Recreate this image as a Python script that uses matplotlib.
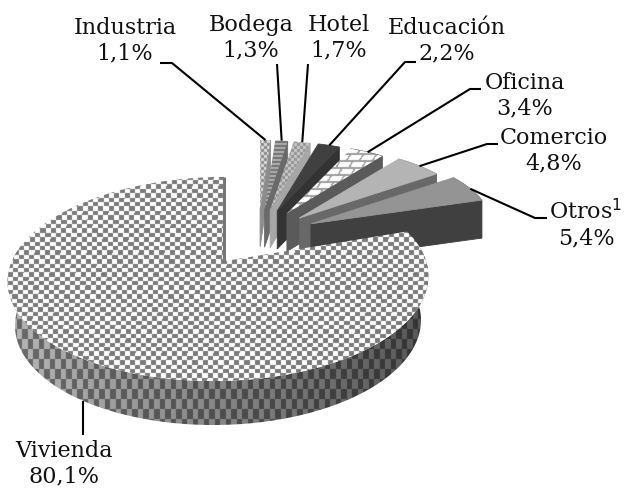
import numpy as np
import matplotlib
matplotlib.use("Agg")
import matplotlib.pyplot as plt
from matplotlib.patches import Polygon

# slices, clockwise from 12 o'clock
categorias = ["Industria", "Bodega", "Hotel", "Educación", "Oficina", "Comercio", "Otros", "Vivienda"]
valores = [1.1, 1.3, 1.7, 2.2, 3.4, 4.8, 5.4, 80.1]
etiquetas = ["1,1%", "1,3%", "1,7%", "2,2%", "3,4%", "4,8%", "5,4%", "80,1%"]

W, H = 624, 489
PROF = 38

# label centre and leader elbow, in pixels
pos_texto = [(125, 41), (251, 38), (339, 38), (447, 41), (525, 96), (554, 151), (586, 224), (64, 464)]
codo = [(172, 64), None, None, (405, 63), (470, 90), (487, 145), (535, 219), None]
fim_linha = [(160, 64), (277, 65), (308, 65), (416, 63), (481, 90), (498, 145), (547, 219), (83, 436)]


def suavizar(m):
    # the original is a blurry scan, so soften the patterns a little
    viz = (np.roll(m, 1, 0) + np.roll(m, -1, 0) + np.roll(m, 1, 1) + np.roll(m, -1, 1)) / 4
    return 0.6 * m + 0.4 * viz


def xadrez(cw, ch, claro, escuro, desl=0.0):
    yy, xx = np.mgrid[0:H, 0:W]
    a = np.floor((xx + desl * yy) / cw).astype(int)
    b = np.floor(yy / ch).astype(int)
    return suavizar(np.where((a + b) % 2 == 0, claro, escuro))


def tijolo(cw, ch, claro, escuro):
    yy, xx = np.mgrid[0:H, 0:W]
    lin = np.floor(yy / ch).astype(int)
    xs = (xx + (lin % 2) * cw / 2 + yy * 0.6) % cw
    return suavizar(np.where((yy % ch < 1.8) | (xs < 1.8), escuro, claro))


def listras(ch, claro, escuro):
    yy, xx = np.mgrid[0:H, 0:W]
    return suavizar(np.where(yy % ch < ch / 2, claro, escuro))


def preencher(ax, pontos, textura, z):
    # texture image clipped to the polygon, or a flat grey
    if isinstance(textura, str):
        ax.add_patch(Polygon(pontos, closed=True, fc=textura, ec=textura, lw=0.6, zorder=z))
        return
    im = ax.imshow(textura, cmap="gray", vmin=0, vmax=1, extent=(0, W, H, 0),
                   interpolation="bilinear", zorder=z, aspect="auto")
    pol = Polygon(pontos, closed=True, transform=ax.transData, fc="none", ec="none")
    ax.add_patch(pol)
    im.set_clip_path(pol)


fig = plt.figure(figsize=(W / 100, H / 100), dpi=100)
ax = fig.add_axes([0, 0, 1, 1])

total = sum(valores)
angulos = np.cumsum([0] + valores) / total * 2 * np.pi

topos = ["#aaaaaa", "#8a8a8a", "#a8a8a8", "#404040", None, "#b4b4b4", "#949494"]
lados = ["#8c8c8c", "#6a6a6a", "#a6a6a6", "#333333", "#5a5a5a", "#686868", "#404040"]
texturas = {
    0: xadrez(3, 3, 0.85, 0.55),
    1: listras(4, 0.68, 0.45),
    2: xadrez(3, 3, 0.78, 0.58),
    4: tijolo(13, 7, 1.0, 0.62),
}
inicio_linha = []

# exploded slices, back to front
for i in range(7):
    t0, t1 = angulos[i], angulos[i + 1]
    b = (t0 + t1) / 2
    sb = np.sin(b)
    ax0 = 258 + 60 * sb
    ay0 = 210 + 19 * sb ** 2
    rx = 150 + 34 * sb
    ry = 69 + 9 * sb ** 3
    t = np.linspace(t0, t1, 30)
    arco = np.column_stack([ax0 + rx * np.sin(t), ay0 - ry * np.cos(t)])
    apice = np.array([ax0, ay0])
    fim = arco[-1]
    # cut face and rim
    face = [apice, fim, fim + [0, PROF], apice + [0, PROF]]
    preencher(ax, face, lados[i], 2 + i * 0.1)
    if i >= 4:
        borda = np.vstack([arco, arco[::-1] + [0, PROF]])
        preencher(ax, borda, lados[i], 2 + i * 0.1)
    topo = np.vstack([apice, arco])
    preencher(ax, topo, texturas.get(i, topos[i]), 2.05 + i * 0.1)
    inicio_linha.append(arco[len(arco) // 2])

# Vivienda, with perspective
t0, t1 = angulos[7], angulos[8]
t = np.linspace(t0, t1, 200)
c, s = np.cos(t), np.sin(t)
den = 1 + 0.176 * c
xa = 219 + 207 * s / den + 6 * c
ya = 262 - 98.9 * c / den
arco_v = np.column_stack([xa, ya])
apice_v = np.array([225.0, 262.0])

# wall: bottom rim is a bit narrower than the top one
frente = arco_v[t < np.radians(282)]
fundo = np.column_stack([219 + (frente[:, 0] - 219) * 0.965, frente[:, 1] + 44])
parede = np.vstack([frente, fundo[::-1]])
yy, xx = np.mgrid[0:H, 0:W]
escurecer = np.clip(1.15 - (xx - 10) / 420 * 0.6, 0.55, 1.15)
preencher(ax, parede, np.clip(xadrez(5.5, 10, 0.62, 0.36) * escurecer, 0, 1), 4)
preencher(ax, np.vstack([apice_v, arco_v]), xadrez(5.2, 4.4, 1.0, 0.48, 0.03), 4.5)

# dark edge on the hidden cut of the big slice
ax.plot([arco_v[-1, 0] - 1, apice_v[0] - 1], [arco_v[-1, 1], apice_v[1]], color="#777777", lw=2.2,
        zorder=4.6, solid_capstyle="butt")
# Vivienda leader drops straight down from the wall
base = fundo[fundo[:, 1] > 300]
inicio_linha.append(np.array([fim_linha[7][0], base[np.argmin(np.abs(base[:, 0] - fim_linha[7][0])), 1]]))

# leaders
for i in range(8):
    xs = [inicio_linha[i][0]]
    ys = [inicio_linha[i][1]]
    if codo[i] is not None:
        xs.append(codo[i][0])
        ys.append(codo[i][1])
    xs.append(fim_linha[i][0])
    ys.append(fim_linha[i][1])
    ax.plot(xs, ys, color="black", lw=1.5, zorder=6, solid_capstyle="butt")

# labels
for i, (nome, et) in enumerate(zip(categorias, etiquetas)):
    x, y = pos_texto[i]
    txt = nome + "$^{1}$" if nome == "Otros" else nome
    ax.text(x, y, txt + "\n" + et, ha="center", va="center", family="DejaVu Serif",
            fontsize=16, linespacing=1.2, color="#111111", zorder=7)

ax.set_xlim(0, W)
ax.set_ylim(H, 0)
ax.axis("off")
fig.savefig("out.png", dpi=100)
